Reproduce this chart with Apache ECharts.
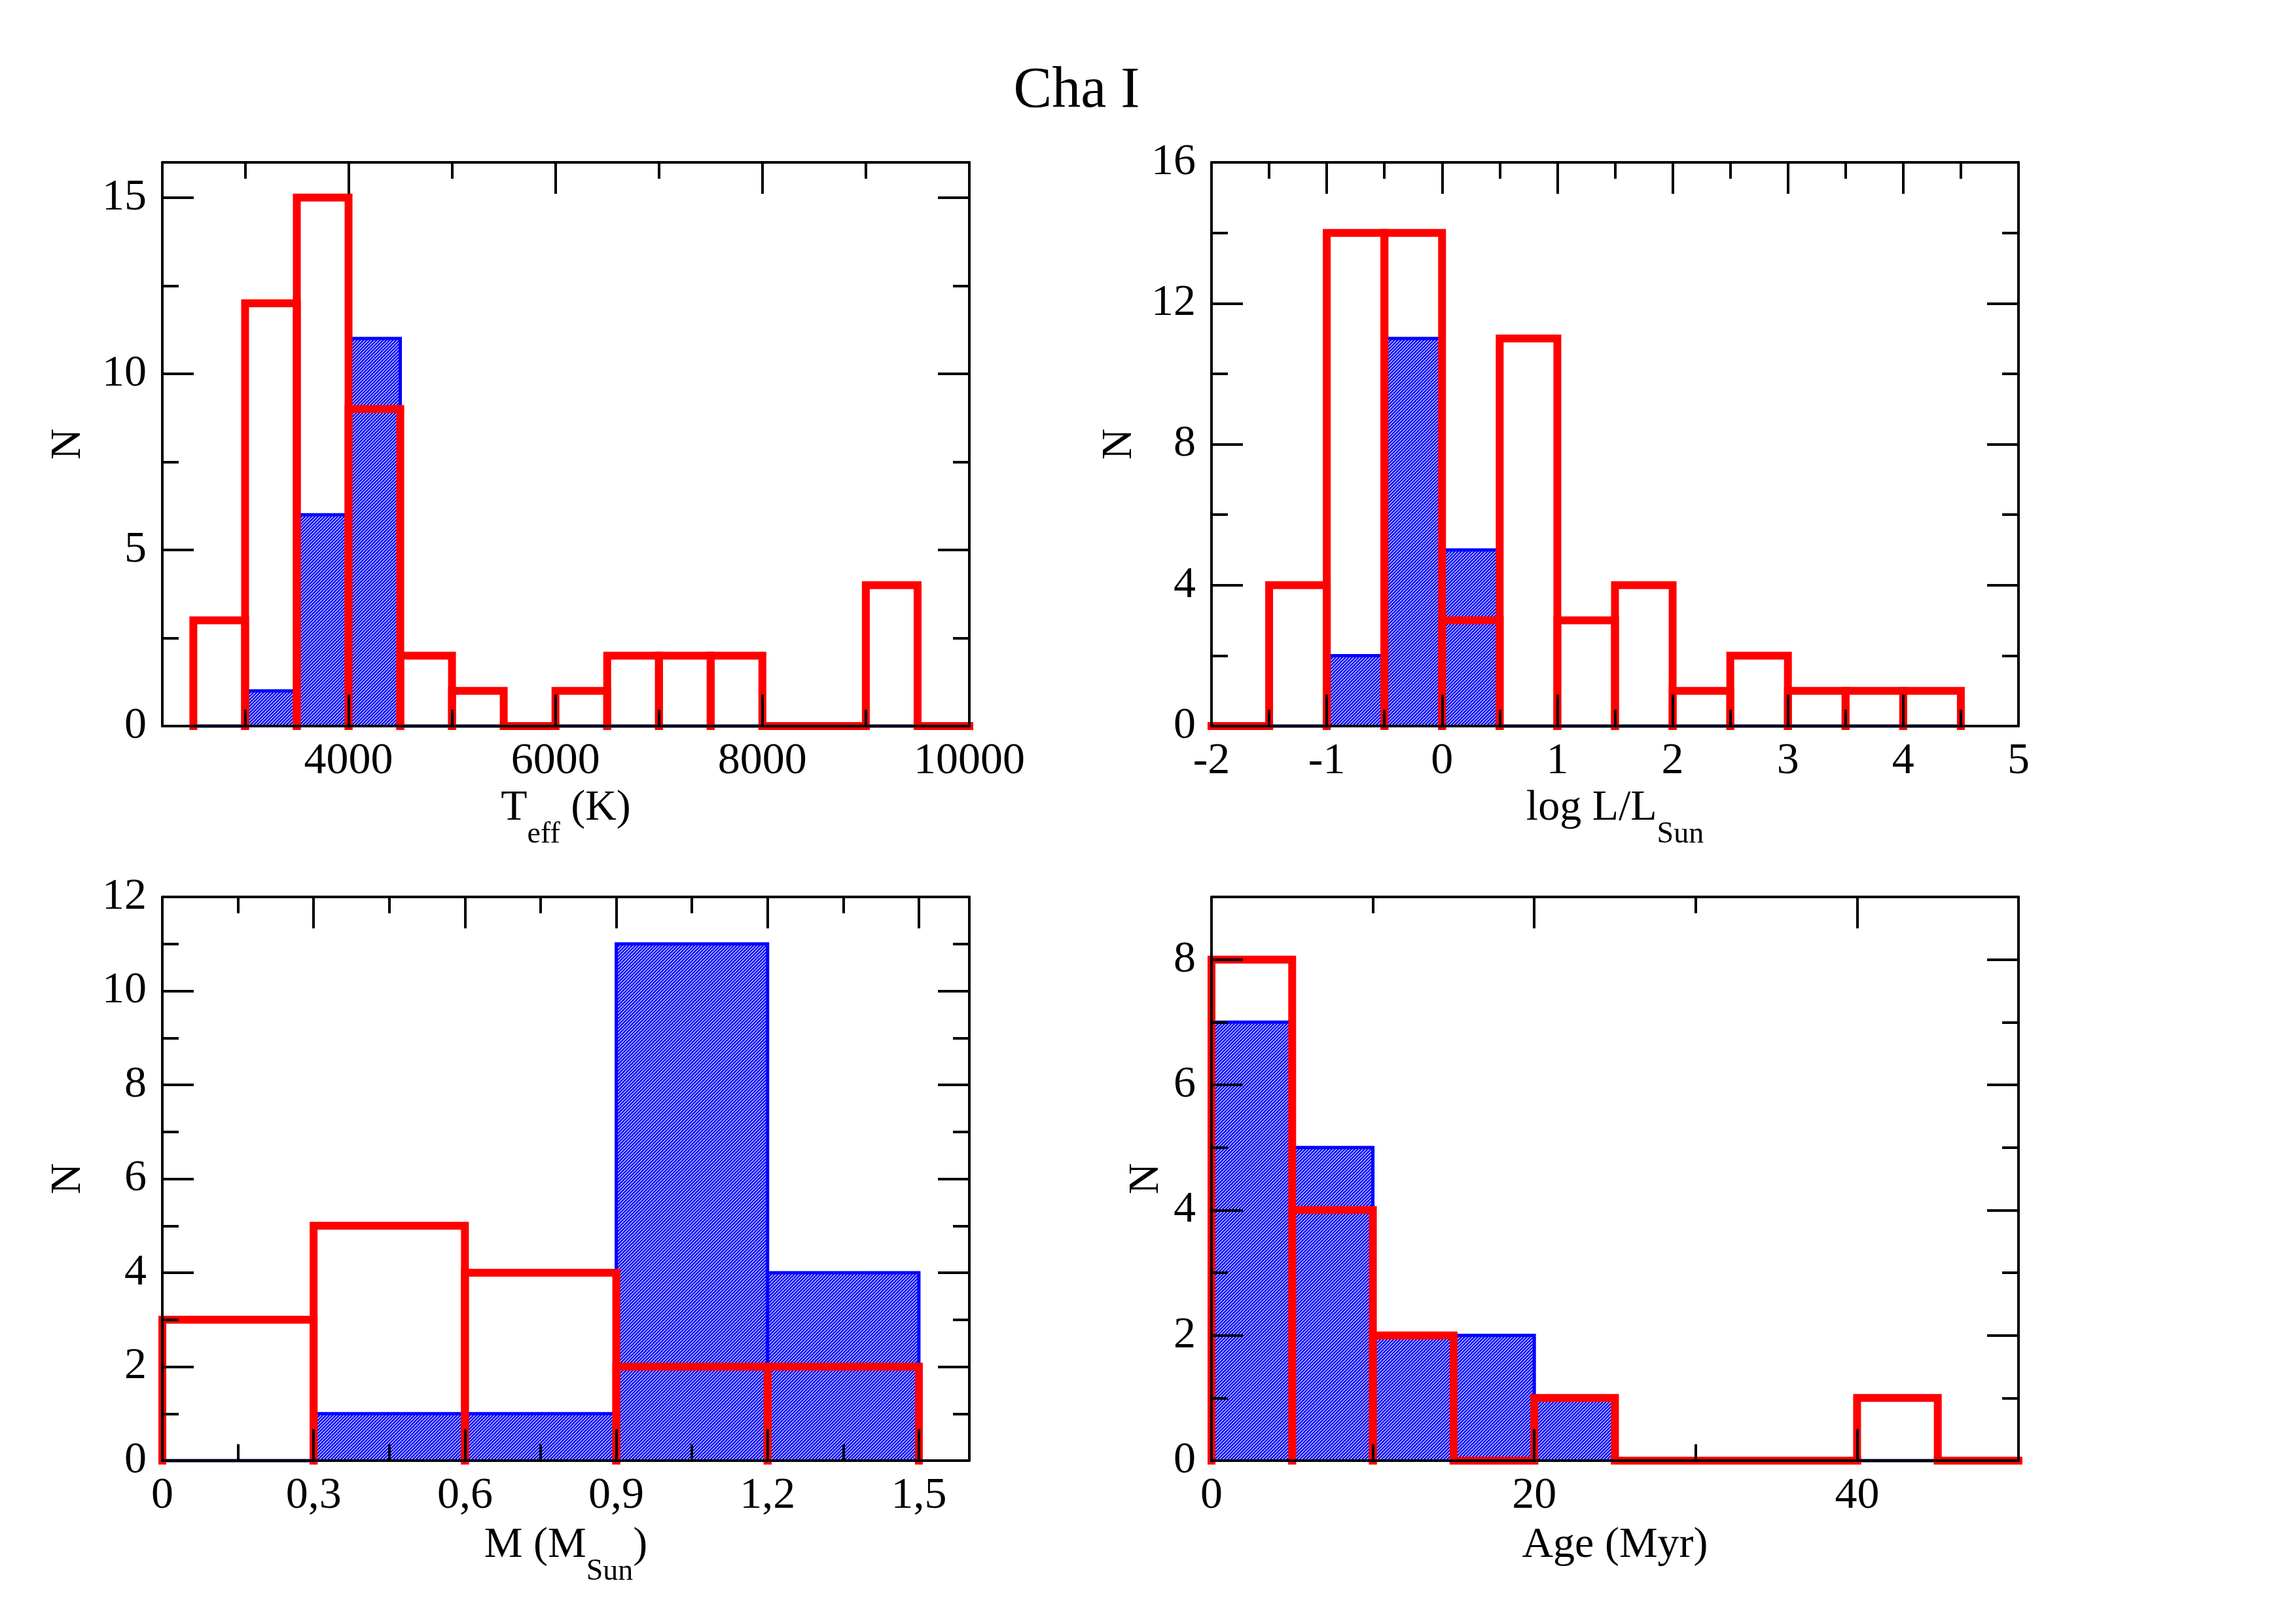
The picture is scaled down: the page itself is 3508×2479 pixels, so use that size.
<!DOCTYPE html>
<html>
<head>
<meta charset="utf-8">
<script src="https://cdn.jsdelivr.net/npm/echarts@6/dist/echarts.min.js"></script>
<style>
html,body{margin:0;padding:0;background:#fff;}
#chart{width:3508px;height:2479px;}
</style>
</head>
<body>
<div id="chart"></div>
<script>
// ---------- data ----------
const title = 'Cha I';

const teffEdges = [2500,3000,3500,4000,4500,5000,5500,6000,6500,7000,7500,8000,8500,9000,9500,10000];
const teffRed   = [3,12,15,9,2,1,0,1,2,2,2,0,0,4,0];
const teffBlue  = [0,1,6,11,0,0,0,0,0,0,0,0,0,0,0];
const teffXTicks = [4000,6000,8000,10000];
const teffXMinor = [3000,5000,7000,9000];
const teffYTicks = [0,5,10,15];
const teffYMinor = [2.5,7.5,12.5];

const lumEdges = [-2,-1.5,-1,-0.5,0,0.5,1,1.5,2,2.5,3,3.5,4,4.5];
const lumRed   = [0,4,14,14,3,11,3,4,1,2,1,1,1];
const lumBlue  = [0,0,2,11,5,0,0,0,0,0,0,0,0];
const lumXTicks = [-2,-1,0,1,2,3,4,5];
const lumXMinor = [-1.5,-0.5,0.5,1.5,2.5,3.5,4.5];
const lumYTicks = [0,4,8,12,16];
const lumYMinor = [2,6,10,14];

const massEdges = [0,0.3,0.6,0.9,1.2,1.5];
const massRed   = [3,5,4,2,2];
const massBlue  = [0,1,1,11,4];
const massXTicks = [0,0.3,0.6,0.9,1.2,1.5];
const massXMinor = [0.15,0.45,0.75,1.05,1.35];
const massYTicks = [0,2,4,6,8,10,12];
const massYMinor = [1,3,5,7,9,11];

const ageEdges = [0,5,10,15,20,25,30,35,40,45,50];
const ageRed   = [8,4,2,0,1,0,0,0,1,0];
const ageBlue  = [7,5,2,2,1,0,0,0,0,0];
const ageXTicks = [0,20,40];
const ageXMinor = [10,30];
const ageYTicks = [0,2,4,6,8];
const ageYMinor = [1,3,5,7];

// ---------- styling ----------
const FONT = 'Liberation Serif';
const RED = '#ff0000', BLUE = '#0000ff', NAVY = '#000080';

function makeHatch() {
  const s = 5;
  const c = document.createElement('canvas');
  c.width = s; c.height = s;
  const ctx = c.getContext('2d');
  ctx.fillStyle = '#ffffff';
  ctx.fillRect(0, 0, s, s);
  ctx.strokeStyle = BLUE;
  ctx.lineWidth = 2.6;
  ctx.beginPath();
  ctx.moveTo(-1, s + 1); ctx.lineTo(s + 1, -1);
  ctx.moveTo(-1, 1); ctx.lineTo(1, -1);
  ctx.moveTo(s - 1, s + 1); ctx.lineTo(s + 1, s - 1);
  ctx.stroke();
  return c;
}
const hatch = makeHatch();

function bins(edges, counts) {
  return counts.map((c, i) => [edges[i], edges[i + 1], c]);
}

const grids = [
  {left: 248,  top: 248,  width: 1233, height: 861},
  {left: 1851, top: 248,  width: 1233, height: 861},
  {left: 248,  top: 1370, width: 1233, height: 861},
  {left: 1851, top: 1370, width: 1233, height: 861}
];

const richName = {
  a: {fontFamily: FONT, fontSize: 66, lineHeight: 80, color: '#000', verticalAlign: 'top'},
  b: {fontFamily: FONT, fontSize: 46, lineHeight: 46, color: '#000', verticalAlign: 'top', padding: [50, 0, 0, 0]}
};

function tick(len, vals) {
  return {show: true, inside: true, length: len, customValues: vals, lineStyle: {color: '#000', width: 4}};
}
const LINE = {show: true, onZero: false, lineStyle: {color: '#000', width: 4}};
const NOLINE = {show: false, onZero: false};

function makeXAxes(g, min, max, major, minor, fmt, name, gap) {
  const base = {type: 'value', gridIndex: g, min: min, max: max, splitLine: {show: false}, z: 10};
  return [
    Object.assign({}, base, {
      position: 'bottom', axisLine: LINE, axisTick: tick(48, major),
      axisLabel: {show: true, customValues: major, formatter: fmt, showMinLabel: true, showMaxLabel: true,
                  fontFamily: FONT, fontSize: 68, color: '#000', margin: 20},
      name: name, nameLocation: 'middle', nameGap: gap,
      nameTextStyle: {rich: richName, fontFamily: FONT, fontSize: 66, color: '#000'}
    }),
    Object.assign({}, base, {position: 'bottom', axisLine: NOLINE, axisTick: tick(25, minor), axisLabel: {show: false}}),
    Object.assign({}, base, {position: 'top', axisLine: LINE, axisTick: tick(48, major), axisLabel: {show: false}}),
    Object.assign({}, base, {position: 'top', axisLine: NOLINE, axisTick: tick(25, minor), axisLabel: {show: false}})
  ];
}

function makeYAxes(g, min, max, major, minor, gap) {
  const base = {type: 'value', gridIndex: g, min: min, max: max, splitLine: {show: false}, z: 10};
  return [
    Object.assign({}, base, {
      position: 'left', axisLine: LINE, axisTick: tick(48, major),
      axisLabel: {show: true, customValues: major, showMinLabel: true, showMaxLabel: true,
                  fontFamily: FONT, fontSize: 68, color: '#000', margin: 24},
      name: 'N', nameLocation: 'middle', nameGap: gap,
      nameTextStyle: {fontFamily: FONT, fontSize: 66, color: '#000'}
    }),
    Object.assign({}, base, {position: 'left', axisLine: NOLINE, axisTick: tick(25, minor), axisLabel: {show: false}}),
    Object.assign({}, base, {position: 'right', axisLine: LINE, axisTick: tick(48, major), axisLabel: {show: false}}),
    Object.assign({}, base, {position: 'right', axisLine: NOLINE, axisTick: tick(25, minor), axisLabel: {show: false}})
  ];
}

const plain = v => String(v);
const comma = v => (v === 0 ? '0' : String(v).replace('.', ','));

const xAxis = [].concat(
  makeXAxes(0, 2200, 10000, teffXTicks, teffXMinor, plain, '{a|T}{b|eff}{a| (K)}', 93),
  makeXAxes(1, -2, 5, lumXTicks, lumXMinor, plain, '{a|log L/L}{b|Sun}', 93),
  makeXAxes(2, 0, 1.6, massXTicks, massXMinor, comma, '{a|M (M}{b|Sun}{a|)}', 97),
  makeXAxes(3, 0, 50, ageXTicks, ageXMinor, plain, '{a|Age (Myr)}', 97)
);
const yAxis = [].concat(
  makeYAxes(0, 0, 16, teffYTicks, teffYMinor, 110),
  makeYAxes(1, 0, 16, lumYTicks, lumYMinor, 107),
  makeYAxes(2, 0, 12, massYTicks, massYMinor, 110),
  makeYAxes(3, 0, 9, ageYTicks, ageYMinor, 66)
);

function redRender(params, api) {
  const x0 = api.value(0), x1 = api.value(1), h = api.value(2);
  const p00 = api.coord([x0, 0]), p10 = api.coord([x1, 0]);
  const pts = h === 0 ? [p00, p10] : [p00, api.coord([x0, h]), api.coord([x1, h]), p10];
  return {
    type: 'polyline', shape: {points: pts},
    style: {stroke: RED, lineWidth: 12, fill: null, lineCap: 'square', lineJoin: 'miter'}
  };
}

function blueRender(params, api) {
  const x0 = api.value(0), x1 = api.value(1), h = api.value(2);
  const p00 = api.coord([x0, 0]), p10 = api.coord([x1, 0]);
  if (h === 0) {
    return {type: 'polyline', shape: {points: [p00, p10]}, style: {stroke: NAVY, lineWidth: 5, fill: null}};
  }
  const p0h = api.coord([x0, h]), p1h = api.coord([x1, h]);
  return {
    type: 'group',
    children: [
      {type: 'rect', shape: {x: p0h[0], y: p0h[1], width: p1h[0] - p0h[0], height: p00[1] - p0h[1]},
       style: {fill: {image: hatch, repeat: 'repeat'}, stroke: null}},
      {type: 'polyline', shape: {points: [p00, p0h, p1h, p10]},
       style: {stroke: BLUE, lineWidth: 5, fill: null, lineJoin: 'miter'}}
    ]
  };
}

const panels = [
  [teffEdges, teffRed, teffBlue],
  [lumEdges, lumRed, lumBlue],
  [massEdges, massRed, massBlue],
  [ageEdges, ageRed, ageBlue]
];

const series = [];
panels.forEach((p, g) => {
  series.push({
    type: 'custom', name: 'blue' + g, xAxisIndex: 4 * g, yAxisIndex: 4 * g,
    renderItem: blueRender, data: bins(p[0], p[2]), encode: {x: [0, 1], y: 2}, z: 2, clip: false
  });
  series.push({
    type: 'custom', name: 'red' + g, xAxisIndex: 4 * g, yAxisIndex: 4 * g,
    renderItem: redRender, data: bins(p[0], p[1]), encode: {x: [0, 1], y: 2}, z: 3, clip: false
  });
});

const chart = echarts.init(document.getElementById('chart'), null, {renderer: 'canvas'});
chart.setOption({
  animation: false,
  backgroundColor: '#ffffff',
  grid: grids,
  xAxis: xAxis,
  yAxis: yAxis,
  series: series,
  graphic: [{
    type: 'text', x: 1645, y: 140,
    style: {text: title, fontFamily: FONT, fontSize: 88, fill: '#000', textAlign: 'center', textVerticalAlign: 'middle'}
  }]
});
</script>
</body>
</html>
